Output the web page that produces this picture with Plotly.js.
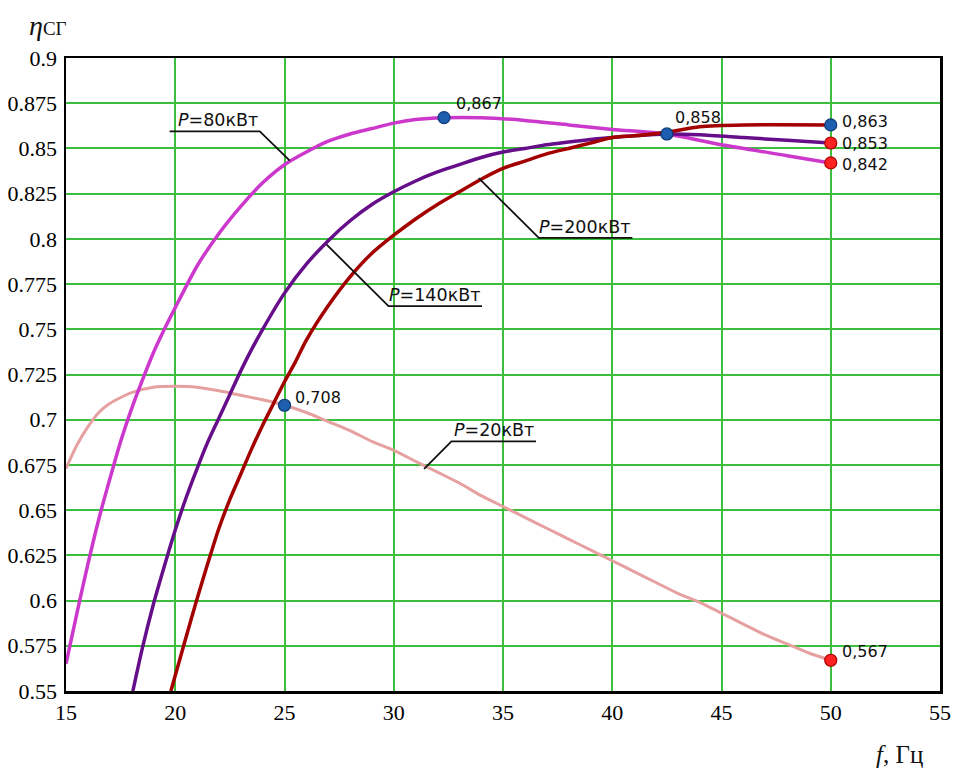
<!DOCTYPE html>
<html>
<head>
<meta charset="utf-8">
<script src="https://cdn.plot.ly/plotly-3.0.1.min.js"></script>
<style>html,body{margin:0;padding:0;background:#fff}#chart{width:957px;height:769px}</style>
</head>
<body>
<div id="chart"></div>
<script>
// ---- data ----
const f80  = [15,15.5,16,16.5,17,17.5,18,18.5,19,19.5,20,21,22,23,24,25,26,27,28,29,30,31,32.3,34,36,38,40,42.5,45,48,50];
const eta80= [0.565,0.593,0.620,0.645,0.667,0.688,0.706,0.722,0.737,0.750,0.762,0.785,0.803,0.818,0.831,0.841,0.848,0.854,0.858,0.861,0.864,0.866,0.867,0.867,0.8655,0.863,0.8605,0.858,0.852,0.846,0.842];

const f140  = [18.06,18.5,19,19.5,20,20.5,21,21.5,22,22.5,23,23.5,24,25,26,27,28,29,30,31,32,33,34,35,36,37,38,39,40,41,42.5,44,46,48,50];
const eta140= [0.55,0.574,0.598,0.619,0.639,0.657,0.673,0.688,0.701,0.714,0.727,0.739,0.750,0.770,0.786,0.799,0.810,0.819,0.826,0.832,0.837,0.841,0.845,0.848,0.850,0.852,0.8535,0.855,0.856,0.857,0.858,0.8575,0.856,0.8545,0.853];

const f200  = [19.8,20.5,21,21.5,22,22.5,23,23.5,24,24.5,25,25.5,26,27,28,29,30,31,32,33,34,35,36,37,38,39,40,41,42.5,44,46,50];
const eta200= [0.55,0.580,0.601,0.621,0.640,0.656,0.670,0.684,0.697,0.709,0.721,0.732,0.744,0.763,0.779,0.792,0.802,0.811,0.819,0.826,0.833,0.839,0.843,0.847,0.850,0.853,0.856,0.857,0.859,0.862,0.863,0.863];

const f20  = [15,15.5,16,16.5,17,18,19,20,21,22,23,24,25,26,27,28,29,30,31,32,33,34,35,36,37,38,39,40,41,42,43,44,45,46,47,48,49,50];
const eta20= [0.673,0.686,0.696,0.704,0.709,0.715,0.718,0.7185,0.718,0.716,0.7135,0.711,0.708,0.704,0.699,0.694,0.688,0.683,0.677,0.671,0.665,0.658,0.652,0.646,0.640,0.634,0.628,0.622,0.616,0.610,0.604,0.599,0.593,0.587,0.581,0.576,0.571,0.567];

// highlighted points
const blueF   = [32.3, 42.5, 25, 50];
const blueEta = [0.867, 0.858, 0.708, 0.863];
const redF    = [50, 50, 50];
const redEta  = [0.853, 0.842, 0.567];

// point labels
const ptLabels = ["0,867","0,858","0,708","0,863","0,853","0,842","0,567"];
const ptF      = [32.3, 42.5, 25, 50, 50, 50, 50];
const ptEta    = [0.867, 0.858, 0.708, 0.863, 0.853, 0.842, 0.567];

// series names
const seriesNames = ["<i>P</i>=80кВт","<i>P</i>=140кВт","<i>P</i>=200кВт","<i>P</i>=20кВт"];

// tick labels
const xTicks = [15,20,25,30,35,40,45,50,55];
const yTicks = [0.55,0.575,0.6,0.625,0.65,0.675,0.7,0.725,0.75,0.775,0.8,0.825,0.85,0.875,0.9];

// ---- presentation ----
const ptShift = [[10,14],[6,16],[8,8],[9,3],[9,0],[9,-2],[9,9]];
// leader lines: [curve point, bend, underline end]
const leaders = [
  [[25.24,0.8432],[23.87,0.8594],[19.74,0.8594]],
  [[26.93,0.7968],[29.76,0.7628],[34.04,0.7628]],
  [[33.89,0.8336],[36.64,0.8005],[40.92,0.8005]],
  [[31.39,0.6728],[32.64,0.6880],[36.51,0.6880]]
];
const labelEnd = [[23.87,0.8594],[34.04,0.7628],[40.92,0.8005],[36.51,0.6880]];

const traces = [
  {x:f20, y:eta20, mode:'lines', line:{color:'#e6a0a0', width:3, shape:'spline', smoothing:0.7}},
  {x:f80, y:eta80, mode:'lines', line:{color:'#cc38cc', width:3.5, shape:'spline', smoothing:0.7}},
  {x:f140, y:eta140, mode:'lines', line:{color:'#660e8a', width:3.5, shape:'spline', smoothing:0.7}},
  {x:f200, y:eta200, mode:'lines', line:{color:'#a30000', width:3.5, shape:'spline', smoothing:0.7}},
  {x:redF, y:redEta, mode:'markers', marker:{color:'#ff2222', size:12, line:{color:'#b00000', width:1.2}}},
  {x:blueF, y:blueEta, mode:'markers', marker:{color:'#1d5fae', size:12, line:{color:'#0e3a78', width:1.2}}}
];

const annotations = [];
ptLabels.forEach((t,i)=>annotations.push({
  x:ptF[i], y:ptEta[i], xref:'x', yref:'y', text:t, showarrow:false,
  xanchor:'left', yanchor:'middle', xshift:ptShift[i][0], yshift:ptShift[i][1],
  font:{family:'DejaVu Sans, sans-serif', size:16, color:'#111'}
}));
seriesNames.forEach((t,i)=>annotations.push({
  x:labelEnd[i][0], y:labelEnd[i][1], xref:'x', yref:'y', text:t, showarrow:false,
  xanchor:'right', yanchor:'bottom', yshift:-1,
  font:{family:'DejaVu Sans, sans-serif', size:17.5, color:'#111'}
}));
annotations.push({xref:'paper', yref:'paper', x:-0.045, y:1.052, xanchor:'left', yanchor:'middle', showarrow:false,
  text:"<i>η</i><span style='font-size:19px'>СГ</span>", font:{family:'Liberation Serif, serif', size:28, color:'#111'}});
annotations.push({xref:'paper', yref:'paper', x:0.925, y:-0.101, xanchor:'left', yanchor:'middle', showarrow:false,
  text:"<i>f</i>, Гц", font:{family:'Liberation Serif, serif', size:25, color:'#111'}});

const shapes = leaders.map(p=>({
  type:'path', xref:'x', yref:'y',
  path:`M ${p[0][0]},${p[0][1]} L ${p[1][0]},${p[1][1]} L ${p[2][0]},${p[2][1]}`,
  line:{color:'#111', width:1.8}
}));

const axisCommon = {
  showline:true, linecolor:'#000', linewidth:2.5, mirror:true,
  showgrid:true, gridcolor:'#3cbf3c', gridwidth:2, zeroline:false,
  ticks:'', tickfont:{family:'Liberation Serif, serif', size:22, color:'#000'}
};

const layout = {
  width:957, height:769,
  margin:{l:66, r:17, t:58, b:78},
  paper_bgcolor:'#fff', plot_bgcolor:'#fff',
  showlegend:false,
  xaxis:Object.assign({}, axisCommon, {range:[15,55], tickvals:xTicks, ticktext:xTicks.map(String)}),
  yaxis:Object.assign({}, axisCommon, {range:[0.55,0.9], tickvals:yTicks, ticktext:yTicks.map(String), ticklabelstandoff:2}),
  annotations:annotations,
  shapes:shapes
};

Plotly.newPlot('chart', traces, layout, {displayModeBar:false, staticPlot:true});
</script>
</body>
</html>
